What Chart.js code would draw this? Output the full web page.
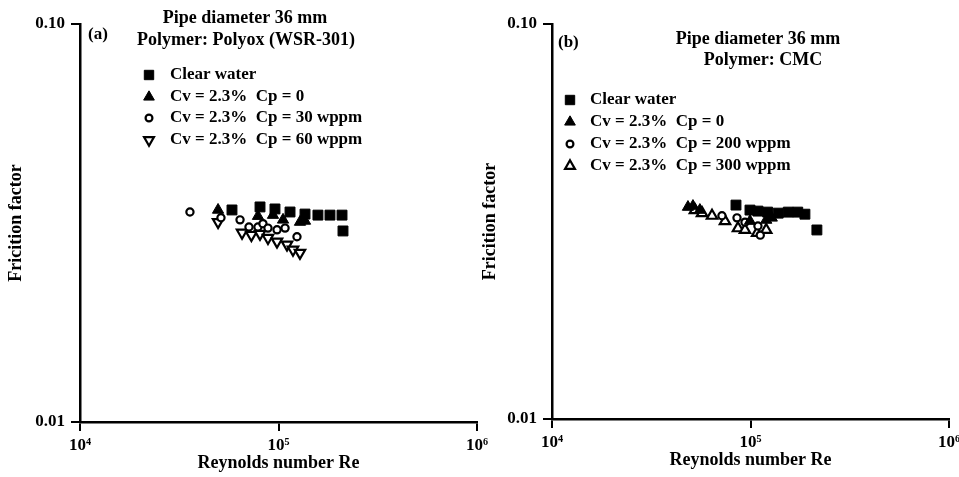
<!DOCTYPE html>
<html>
<head>
<meta charset="utf-8">
<script src="https://cdn.jsdelivr.net/npm/chart.js@4/dist/chart.umd.min.js"></script>
<style>
  html, body { margin: 0; padding: 0; background: #fff; }
  .panel { position: absolute; top: 0; height: 477px; }
  #wrapA { left: 0; width: 500px; }
  #wrapB { left: 480px; width: 479px; }
</style>
</head>
<body>
<div class="panel" id="wrapA"><canvas id="chartA"></canvas></div>
<div class="panel" id="wrapB"><canvas id="chartB"></canvas></div>
<script>
const xTicks = [1e4, 1e5, 1e6]
const xTickLabels = ['10⁴', '10⁵', '10⁶']
const yTicks = [0.01, 0.1]
const yTickLabels = ['0.01', '0.10']

// (a) Polyox WSR-301
const aWaterRe = [58300, 80700, 96000, 114300, 136000, 158000, 181700, 208900, 211300]
const aWaterF = [0.0341, 0.0347, 0.0343, 0.0337, 0.0333, 0.0331, 0.0331, 0.0331, 0.0302]
const aCp0Re = [49600, 78800, 93800, 105400, 128300, 136000]
const aCp0F = [0.0341, 0.0329, 0.0331, 0.0322, 0.0318, 0.0320]
const aCp30Re = [35800, 51300, 64000, 71000, 78800, 83500, 88500, 98300, 107900, 123900]
const aCp30F = [0.0337, 0.0326, 0.0322, 0.0309, 0.0309, 0.0315, 0.0307, 0.0304, 0.0307, 0.0292]
const aCp60Re = [49600, 65500, 73000, 80700, 88500, 98300, 110400, 118300, 128300]
const aCp60F = [0.0318, 0.0299, 0.0295, 0.0297, 0.0290, 0.0284, 0.0279, 0.0271, 0.0266]

// (b) CMC
const bWaterRe = [84500, 99400, 109000, 122000, 138000, 155000, 173000, 188000, 216000]
const bWaterF = [0.0348, 0.0338, 0.0336, 0.0334, 0.0332, 0.0334, 0.0334, 0.0330, 0.0301]
const bCp0Re = [48400, 51300, 55600, 99400, 120000, 128000]
const bCp0F = [0.0344, 0.0346, 0.0338, 0.0317, 0.0319, 0.0323]
const bCp200Re = [71800, 85500, 93800, 109000, 112000]
const bCp200F = [0.0327, 0.0323, 0.0315, 0.0308, 0.0292]
const bCp300Re = [52500, 57000, 64000, 74400, 86500, 93800, 108000, 120000]
const bCp300F = [0.0338, 0.0332, 0.0327, 0.0317, 0.0304, 0.0301, 0.0296, 0.0301]

const FAMILY = "'Liberation Serif', 'Times New Roman', serif"
const FONT = { family: FAMILY, size: 17, weight: 'bold' }
const TITLE_FONT = { family: FAMILY, size: 18, weight: 'bold' }

const pairs = (xs, ys) => xs.map((x, i) => ({ x, y: ys[i] }))

const markers = {
  square: { pointStyle: 'rect', radius: 7, rotation: 0, fill: '#000', borderWidth: 1 },
  triUp: { pointStyle: 'triangle', radius: 6.5, rotation: 0, fill: '#000', borderWidth: 1 },
  circle: { pointStyle: 'circle', radius: 3.6, rotation: 0, fill: '#fff', borderWidth: 2.2 },
  triDown: { pointStyle: 'triangle', radius: 6, rotation: 180, fill: '#fff', borderWidth: 2.2 },
  triOpen: { pointStyle: 'triangle', radius: 6, rotation: 0, fill: '#fff', borderWidth: 2.2 }
}

const makeDataset = (label, xs, ys, m) => ({
  label,
  data: pairs(xs, ys),
  showLine: false,
  pointStyle: m.pointStyle,
  pointRadius: m.radius,
  pointRotation: m.rotation,
  pointBackgroundColor: m.fill,
  pointBorderColor: '#000',
  pointBorderWidth: m.borderWidth,
  marker: m
})

// titles, panel letter and in-plot legend
const panelText = {
  id: 'panelText',
  afterDraw (chart, args, opts) {
    const ctx = chart.ctx
    ctx.save()
    ctx.fillStyle = '#000'
    ctx.textBaseline = 'middle'
    ctx.font = `bold ${FONT.size}px ${FAMILY}`
    ctx.textAlign = 'left'
    ctx.fillText(opts.letter, opts.letterX, opts.letterY)
    ctx.font = `bold ${TITLE_FONT.size}px ${FAMILY}`
    ctx.textAlign = 'center'
    opts.titles.forEach(t => ctx.fillText(t.text, t.x, t.y))
    ctx.font = `bold ${FONT.size}px ${FAMILY}`
    ctx.textAlign = 'left'
    chart.data.datasets.forEach((ds, i) => {
      const y = opts.legendRows[i]
      const m = ds.marker
      ctx.fillStyle = m.fill
      ctx.strokeStyle = '#000'
      ctx.lineWidth = m.borderWidth
      Chart.helpers.drawPoint(ctx, { pointStyle: m.pointStyle, rotation: m.rotation, radius: m.radius * 0.95, borderWidth: m.borderWidth }, opts.legendX, y)
      ctx.fillStyle = '#000'
      ctx.fillText(ds.label, opts.legendTextX, y)
    })
    ctx.restore()
  }
}

const createOptions = (cfg) => ({
  responsive: true,
  maintainAspectRatio: false,
  animation: false,
  layout: { padding: { top: 24, right: cfg.padRight, left: 0, bottom: 0 } },
  plugins: {
    legend: { display: false },
    tooltip: { enabled: false },
    panelText: cfg.text
  },
  scales: {
    x: {
      type: 'logarithmic',
      min: 1e4,
      max: 1e6,
      afterBuildTicks: s => { s.ticks = xTicks.map(v => ({ value: v })) },
      afterFit: s => { s.height = cfg.xHeight; s.paddingLeft = 0; s.paddingRight = 0 },
      ticks: { callback: (v, i) => xTickLabels[i], font: FONT, color: '#000', maxRotation: 0, autoSkip: false, padding: 4 },
      grid: { drawOnChartArea: false, drawTicks: true, tickLength: 9, color: '#000', lineWidth: 2 },
      border: { display: true, color: '#000', width: 2.5 },
      title: { display: true, text: 'Reynolds number Re', font: TITLE_FONT, color: '#000', padding: { top: 0, bottom: cfg.xTitlePad } }
    },
    y: {
      type: 'logarithmic',
      min: 0.01,
      max: 0.1,
      afterBuildTicks: s => { s.ticks = yTicks.map(v => ({ value: v })) },
      afterFit: s => { s.width = cfg.yWidth; s.paddingTop = 0; s.paddingBottom = 0 },
      ticks: { callback: (v, i) => yTickLabels[i], font: FONT, color: '#000', padding: 6 },
      grid: { drawOnChartArea: false, drawTicks: true, tickLength: 9, color: '#000', lineWidth: 2 },
      border: { display: true, color: '#000', width: 2.5 },
      title: { display: true, text: 'Fricition factor', font: TITLE_FONT, color: '#000', padding: { top: cfg.yTitlePad, bottom: 0 } }
    }
  }
})

new Chart(document.getElementById('chartA'), {
  type: 'scatter',
  data: {
    datasets: [
      makeDataset('Clear water', aWaterRe, aWaterF, markers.square),
      makeDataset('Cv = 2.3%  Cp = 0', aCp0Re, aCp0F, markers.triUp),
      makeDataset('Cv = 2.3%  Cp = 30 wppm', aCp30Re, aCp30F, markers.circle),
      makeDataset('Cv = 2.3%  Cp = 60 wppm', aCp60Re, aCp60F, markers.triDown)
    ]
  },
  options: createOptions({
    padRight: 23,
    xHeight: 55,
    yWidth: 80,
    xTitlePad: 3,
    yTitlePad: 6,
    text: {
      letter: '(a)', letterX: 88, letterY: 35,
      titles: [
        { text: 'Pipe diameter 36 mm', x: 245, y: 18 },
        { text: 'Polymer: Polyox (WSR-301)', x: 246, y: 40 }
      ],
      legendX: 149, legendTextX: 170, legendRows: [75, 97, 118, 140]
    }
  }),
  plugins: [panelText]
})

new Chart(document.getElementById('chartB'), {
  type: 'scatter',
  data: {
    datasets: [
      makeDataset('Clear water', bWaterRe, bWaterF, markers.square),
      makeDataset('Cv = 2.3%  Cp = 0', bCp0Re, bCp0F, markers.triUp),
      makeDataset('Cv = 2.3%  Cp = 200 wppm', bCp200Re, bCp200F, markers.circle),
      makeDataset('Cv = 2.3%  Cp = 300 wppm', bCp300Re, bCp300F, markers.triOpen)
    ]
  },
  options: createOptions({
    padRight: 10,
    xHeight: 58,
    yWidth: 72,
    xTitlePad: 6,
    yTitlePad: 0,
    text: {
      letter: '(b)', letterX: 78, letterY: 43,
      titles: [
        { text: 'Pipe diameter 36 mm', x: 278, y: 39 },
        { text: 'Polymer: CMC', x: 283, y: 60 }
      ],
      legendX: 90, legendTextX: 110, legendRows: [100, 122, 144, 166]
    }
  }),
  plugins: [panelText]
})
</script>
</body>
</html>
